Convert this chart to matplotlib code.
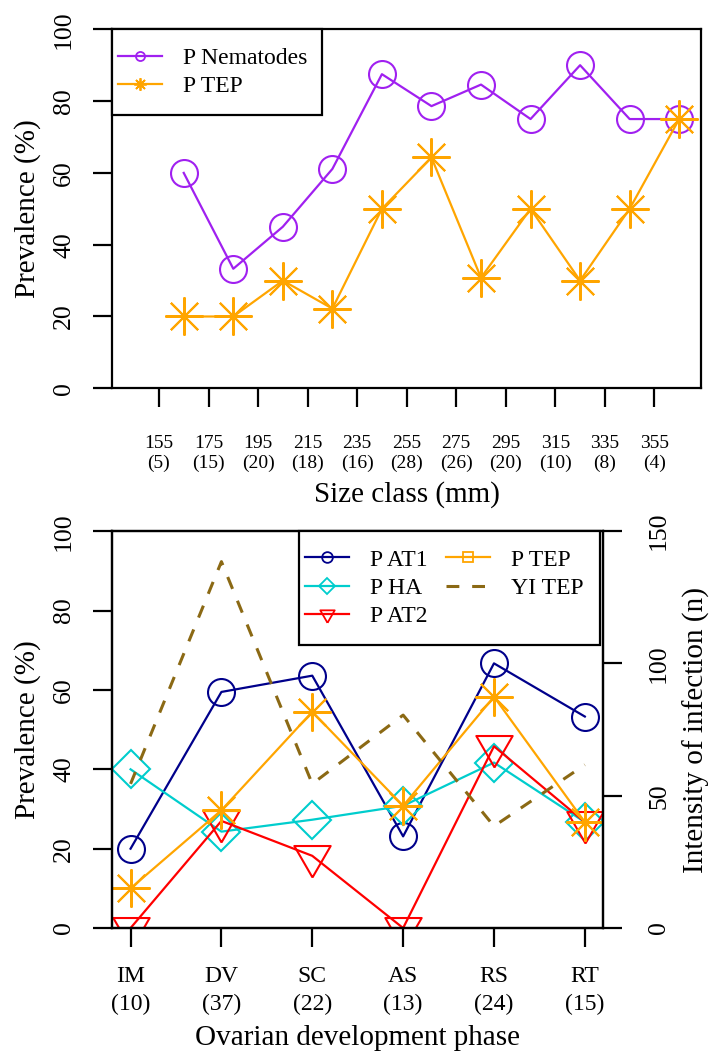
import matplotlib
matplotlib.use("Agg")
import matplotlib.pyplot as plt
from matplotlib.lines import Line2D
from matplotlib.patches import Rectangle

# Size classes (lower bound, mm) and number of fish per class
size_classes = [155, 175, 195, 215, 235, 255, 275, 295, 315, 335, 355]
size_n = [5, 15, 20, 18, 16, 28, 26, 20, 10, 8, 4]
p_nematodes = [60.0, 33.3, 45.0, 61.1, 87.5, 78.6, 84.6, 75.0, 90.0, 75.0, 75.0]
p_tep_size = [20.0, 20.0, 30.0, 22.2, 50.0, 64.3, 30.8, 50.0, 30.0, 50.0, 75.0]

# Ovarian development phases and sample sizes
phases = ["IM", "DV", "SC", "AS", "RS", "RT"]
phase_n = [10, 37, 22, 13, 24, 15]
p_at1 = [20.0, 59.5, 63.6, 23.1, 66.7, 53.3]
p_ha = [40.0, 24.3, 27.3, 30.8, 41.7, 26.7]
p_at2 = [0.0, 27.0, 18.2, 0.0, 45.8, 26.7]
p_tep = [10.0, 29.7, 54.5, 30.8, 58.3, 26.7]
yi_tep = [54.5, 138.5, 54.5, 80.5, 38.5, 61.7]

plt.rcParams["font.family"] = ["Liberation Serif", "DejaVu Serif"]

PURPLE = "#A020F0"
ORANGE = "#FFA500"
NAVY = "#00008B"
CYAN = "#00CDCD"
RED = "#FF0000"
BROWN = "#8B6914"

LW = 1.6
MEW = 1.5
STAR = (8, 2, 0)  # R pch 8: "+" and "x" together
TRI_DOWN = [(0, -1.555), (1.347, 0.7775), (-1.347, 0.7775), (0, -1.555)]


def r_lim(lo, hi):
    # R pads the data range by 4% on both sides
    pad = 0.04 * (hi - lo)
    return lo - pad, hi + pad


def style_axes(ax):
    for s in ax.spines.values():
        s.set_linewidth(1.6)
    ax.tick_params(direction="out", length=13.5, width=1.6, colors="black")


def framed_legend(ax, handles, labels, box, ncol=1):
    x0, y0, w, h = box
    leg = ax.legend(handles, labels, loc="center left", bbox_to_anchor=box,
                    borderaxespad=0, borderpad=0.24, frameon=False, fontsize=17,
                    handlelength=1.85, handletextpad=0.92, labelspacing=0.28,
                    columnspacing=0.76, ncol=ncol)
    ax.add_patch(Rectangle((x0, y0), w, h, transform=ax.transAxes, fill=True,
                           fc="white", ec="black", lw=1.6, zorder=4, clip_on=False))
    leg.set_zorder(5)
    return leg


fig = plt.figure(figsize=(7.1, 10.54), dpi=100)

# --- prevalence by size class ---
ax = fig.add_axes([0.1583, 0.6316, 0.8290, 0.3406])
style_axes(ax)
x = list(range(1, len(size_classes) + 1))
ax.plot(x, p_nematodes, color=PURPLE, lw=LW, marker="o", ms=19.4, mfc="none", mew=MEW)
ax.plot(x, p_tep_size, color=ORANGE, lw=LW, marker=STAR, ms=27.5, mew=MEW)
ax.set_xlim(*r_lim(0, len(size_classes)))
ax.set_ylim(0, 100)
ax.set_xticks([i - 0.5 for i in x],
              labels=[f"{c}\n({n})" for c, n in zip(size_classes, size_n)], fontsize=14)
ax.tick_params(axis="x", pad=20)
ax.set_yticks([0, 20, 40, 60, 80, 100], labels=["0", "20", "40", "60", "80", "100"],
              rotation=90, va="center", fontsize=18.5)
ax.tick_params(axis="y", pad=13.4)
ax.set_ylabel("Prevalence (%)", fontsize=21, va="center")
ax.yaxis.set_label_coords(-0.1435, 0.5)
ax.set_xlabel("Size class (mm)", fontsize=21, va="center")
ax.xaxis.set_label_coords(0.5, -0.297)

top_handles = [
    Line2D([], [], color=PURPLE, lw=LW, marker="o", ms=6.5, mfc="none", mew=1.3),
    Line2D([], [], color=ORANGE, lw=LW, marker=STAR, ms=9, mew=1.3),
]
framed_legend(ax, top_handles, ["P Nematodes", "P TEP"], (0, 0.7613, 0.3566, 0.2387))

# --- prevalence and intensity by ovarian phase ---
ax2 = fig.add_axes([0.1583, 0.1195, 0.6910, 0.3765])
style_axes(ax2)
xp = list(range(1, len(phases) + 1))
ax2.plot(xp, p_at1, color=NAVY, lw=LW, marker="o", ms=19.4, mfc="none", mew=MEW)
ax2.plot(xp, p_ha, color=CYAN, lw=LW, marker="D", ms=19.4, mfc="none", mew=MEW)
ax2.plot(xp, p_at2, color=RED, lw=LW, marker=TRI_DOWN, ms=30.2, mfc="none", mew=MEW)
ax2.plot(xp, p_tep, color=ORANGE, lw=LW, marker=STAR, ms=27.5, mew=MEW)
ax2.set_xlim(*r_lim(1, len(phases)))
ax2.set_ylim(0, 100)
ax2.set_xticks(xp, labels=[f"{p}\n({n})" for p, n in zip(phases, phase_n)],
               fontsize=17, linespacing=1.44)
ax2.tick_params(axis="x", pad=14)
ax2.set_yticks([0, 20, 40, 60, 80, 100], labels=["0", "20", "40", "60", "80", "100"],
               rotation=90, va="center", fontsize=18.5)
ax2.tick_params(axis="y", pad=13.4)
ax2.set_ylabel("Prevalence (%)", fontsize=21, va="center")
ax2.yaxis.set_label_coords(-0.172, 0.5)
ax2.set_xlabel("Ovarian development phase", fontsize=21, va="center")
ax2.xaxis.set_label_coords(0.5, -0.277)

axr = ax2.twinx()
style_axes(axr)
axr.plot(xp, yi_tep, color=BROWN, lw=2.2, ls=(0, (4.2, 4.2)))
axr.set_ylim(0, 150)
axr.set_yticks([0, 50, 100, 150], labels=["0", "50", "100", "150"],
               rotation=90, va="center", fontsize=18.5)
axr.tick_params(axis="y", pad=19)
axr.set_ylabel("Intensity of infection (n)", fontsize=21, va="center", rotation=90)
axr.yaxis.set_label_coords(1.1896, 0.5)

bot_handles = [
    Line2D([], [], color=NAVY, lw=LW, marker="o", ms=7.7, mfc="none", mew=1.3),
    Line2D([], [], color=CYAN, lw=LW, marker="D", ms=7.7, mfc="none", mew=1.3),
    Line2D([], [], color=RED, lw=LW, marker=TRI_DOWN, ms=12, mfc="none", mew=1.3),
    Line2D([], [], color=ORANGE, lw=LW, marker="s", ms=7.2, mfc="none", mew=1.3),
    Line2D([], [], color=BROWN, lw=2.2, ls=(0, (4.2, 4.2))),
]
framed_legend(axr, bot_handles, ["P AT1", "P HA", "P AT2", "P TEP", "YI TEP"],
              (0.381, 0.7132, 0.6129, 0.2868), ncol=2)

fig.savefig("out.png", dpi=100)
